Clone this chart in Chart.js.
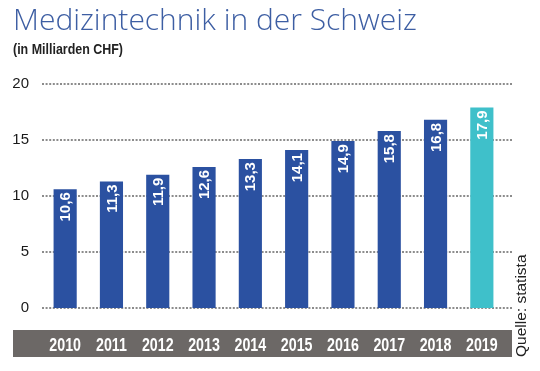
<!DOCTYPE html>
<html><head><meta charset="utf-8">
<script src="https://cdn.jsdelivr.net/npm/chart.js@4/dist/chart.umd.min.js"></script>
<style>html,body{margin:0;padding:0;background:#fff}#wrap{width:540px;height:371px;position:relative}</style>
</head><body><div id="wrap"><canvas id="c" width="540" height="371"></canvas></div>
<script>
const categories = ['2010','2011','2012','2013','2014','2015','2016','2017','2018','2019'];
const values = [10.6, 11.3, 11.9, 12.6, 13.3, 14.1, 14.9, 15.8, 16.8, 17.9];
const yTicks = [0, 5, 10, 15, 20];
const titleText = 'Medizintechnik in der Schweiz';
const subtitleText = '(in Milliarden CHF)';
const sourceText = 'Quelle: statista';

const BLUE = '#2b51a1', CYAN = '#3fc0ca', BAND = '#6c6866';
const fmt = v => v.toFixed(1).replace('.', ',');

const decor = {
  id: 'decor',
  beforeDraw(chart) {
    const {ctx} = chart;
    ctx.save();
    ctx.fillStyle = BAND;
    ctx.fillRect(13, 330, 499, 27);
    ctx.restore();
  },
  beforeDatasetsDraw(chart) {
    const {ctx, chartArea: a, scales: {y}} = chart;
    ctx.save();
    ctx.strokeStyle = '#8c8c8c';
    ctx.lineWidth = 2;
    ctx.setLineDash([2, 1.6]);
    yTicks.forEach(t => {
      const py = Math.round(y.getPixelForValue(t));
      ctx.beginPath();
      ctx.moveTo(a.left, py);
      ctx.lineTo(a.right + 7, py);
      ctx.stroke();
    });
    ctx.restore();
  },
  afterDatasetsDraw(chart) {
    const {ctx, scales: {x}} = chart;
    const meta = chart.getDatasetMeta(0);
    ctx.save();
    ctx.fillStyle = '#ffffff';
    ctx.font = 'bold 15px "Liberation Sans", Arial, sans-serif';
    ctx.textAlign = 'right';
    ctx.textBaseline = 'middle';
    meta.data.forEach((bar, i) => {
      ctx.save();
      ctx.translate(bar.x + 1, bar.y + 3);
      ctx.rotate(-Math.PI / 2);
      ctx.fillText(fmt(values[i]), 0, 0);
      ctx.restore();
    });
    // category labels on the band (condensed)
    ctx.font = 'bold 19px "Liberation Sans", Arial, sans-serif';
    ctx.textAlign = 'center';
    ctx.textBaseline = 'alphabetic';
    categories.forEach((c, i) => {
      ctx.save();
      ctx.translate(x.getPixelForValue(i), 351);
      ctx.scale(0.75, 1);
      ctx.fillText(c, 0, 0);
      ctx.restore();
    });
    // subtitle (condensed)
    ctx.save();
    ctx.fillStyle = '#222222';
    ctx.font = 'bold 15.2px "Liberation Sans", Arial, sans-serif';
    ctx.textAlign = 'left';
    ctx.translate(13, 54);
    ctx.scale(0.82, 1);
    ctx.fillText(subtitleText, 0, 0);
    ctx.restore();
    // source
    ctx.fillStyle = '#222';
    ctx.font = '15.5px "Liberation Sans", Arial, sans-serif';
    ctx.textAlign = 'left';
    ctx.textBaseline = 'alphabetic';
    ctx.translate(526, 357);
    ctx.rotate(-Math.PI / 2);
    ctx.fillText(sourceText, 0, 0);
    ctx.restore();
  }
};

new Chart(document.getElementById('c'), {
  type: 'bar',
  data: {
    labels: categories,
    datasets: [{
      data: values,
      backgroundColor: ctx => ctx.dataIndex === values.length - 1 ? CYAN : BLUE,
      borderWidth: 0,
      categoryPercentage: 1,
      barPercentage: 0.5
    }]
  },
  options: {
    responsive: false,
    animation: false,
    devicePixelRatio: 1,
    layout: {padding: {left: 13, right: 35, top: 0, bottom: 0}},
    plugins: {
      legend: {display: false},
      tooltip: {enabled: false},
      title: {
        display: true, text: titleText, align: 'start', color: '#3d5ea3',
        font: {family: '"Open Sans", Roboto, sans-serif', size: 30, weight: '300'},
        padding: {top: 3.2, bottom: 44.8}
      }
    },
    scales: {
      x: {
        grid: {display: false, drawTicks: false},
        border: {display: false},
        ticks: {display: false},
        afterFit(s) { s.height = 63; }
      },
      y: {
        min: 0, max: 20,
        afterBuildTicks(s) { s.ticks = yTicks.map(v => ({value: v})); },
        grid: {display: false, drawTicks: false},
        border: {display: false},
        ticks: {
          color: '#1a1a1a', padding: 13,
          font: {family: '"Liberation Sans", Arial, sans-serif', size: 15}
        },
        afterFit(s) { s.width = 29; }
      }
    }
  },
  plugins: [decor]
});
</script>
</body></html>
